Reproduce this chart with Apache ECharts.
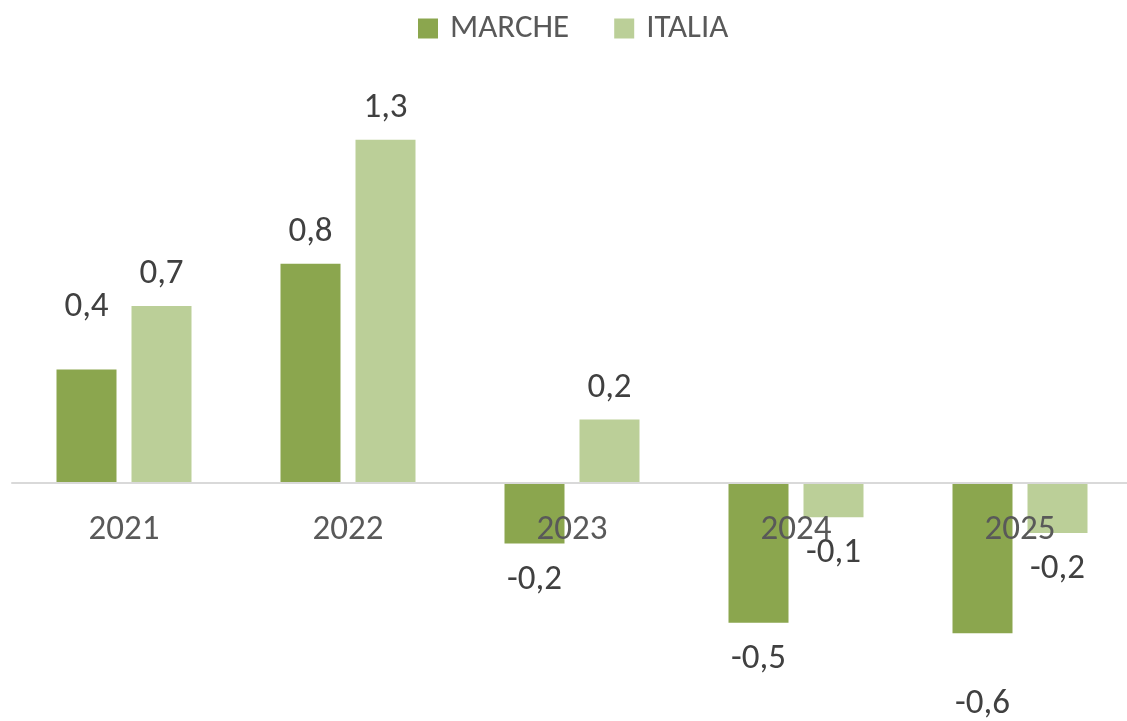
<!DOCTYPE html>
<html>
<head>
<meta charset="utf-8">
<script src="https://cdn.jsdelivr.net/npm/echarts@6/dist/echarts.min.js"></script>
<style>
  html, body { margin: 0; padding: 0; background: #fff; }
  #chart { width: 1127px; height: 721px; }
</style>
</head>
<body>
<div id="chart"></div>
<script>
const years = ['2021', '2022', '2023', '2024', '2025'];
const marche = [0.43, 0.83, -0.23, -0.53, -0.57];
const italia = [0.67, 1.30, 0.24, -0.13, -0.19];

const font = 'Carlito, "Liberation Sans", Arial, sans-serif';

// labels in the original were nudged by hand on a couple of bars
const extraGap = { marche: [31, 0, 0, 0, 34], italia: [0, 0, 0, 0, 0] };

const toItems = (values, key) => values.map((v, i) => ({
  value: v,
  label: {
    position: v >= 0 ? 'top' : 'bottom',
    distance: (v >= 0 ? 14 : 19) + extraGap[key][i]
  }
}));

const chart = echarts.init(document.getElementById('chart'));

chart.setOption({
  animation: false,
  textStyle: { fontFamily: font },
  legend: {
    left: 418,
    top: 12,
    padding: 0,
    itemWidth: 20,
    itemHeight: 20,
    itemGap: 45,
    icon: 'rect',
    textStyle: { fontSize: 33, color: '#595959', fontFamily: font, padding: [0, 0, 0, 7] },
    data: ['MARCHE', 'ITALIA']
  },
  grid: { left: 12, width: 1120, top: 87, bottom: 27, outerBoundsMode: 'none', containLabel: false },
  xAxis: {
    type: 'category',
    data: years,
    z: 10,
    offset: -211,
    axisTick: { show: false },
    axisLine: { onZero: false, lineStyle: { color: '#D9D9D9', width: 2 } },
    axisLabel: { fontSize: 35, color: '#595959', margin: 30, fontFamily: font }
  },
  yAxis: {
    type: 'value',
    min: -0.8,
    max: 1.5,
    show: false,
    splitLine: { show: false }
  },
  series: [
    {
      name: 'MARCHE',
      type: 'bar',
      barWidth: 60,
      barGap: '25%',
      itemStyle: { color: '#8BA64E' },
      label: {
        show: true,
        fontSize: 35,
        color: '#404040',
        fontFamily: font,
        formatter: (p) => p.value.toFixed(1).replace('.', ',')
      },
      data: toItems(marche, 'marche')
    },
    {
      name: 'ITALIA',
      type: 'bar',
      barWidth: 60,
      barGap: '25%',
      itemStyle: { color: '#BBCF98' },
      label: {
        show: true,
        fontSize: 35,
        color: '#404040',
        fontFamily: font,
        formatter: (p) => p.value.toFixed(1).replace('.', ',')
      },
      data: toItems(italia, 'italia')
    }
  ]
});
</script>
</body>
</html>
